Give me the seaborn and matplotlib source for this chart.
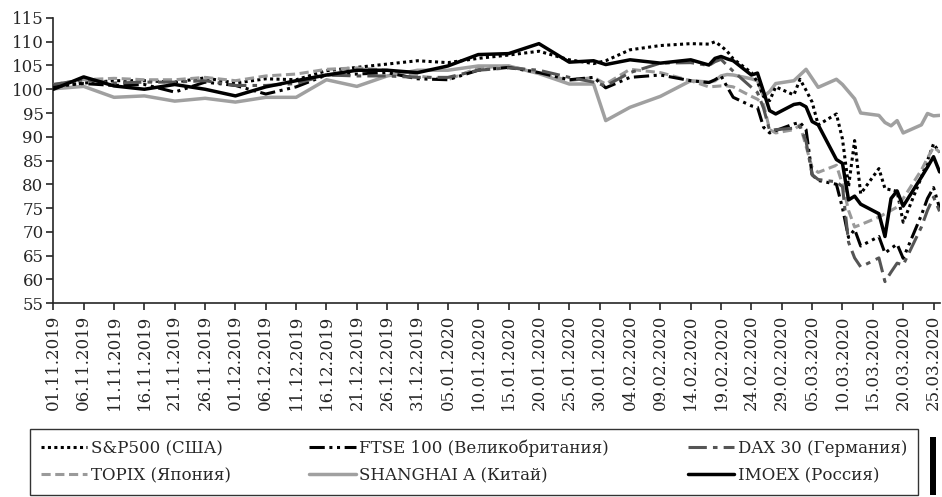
import pandas as pd
import matplotlib
matplotlib.use('Agg')
import matplotlib.pyplot as plt
import matplotlib.dates as mdates
from matplotlib.patches import Rectangle
import seaborn as sns

day_offset = [0, 5, 10, 15, 20, 25, 30, 35, 40, 45, 50, 55, 60, 65, 70, 75, 80, 85, 89, 91, 95, 100,
              105, 108, 109, 110, 111, 112, 115, 116, 117, 118, 119, 122, 123, 124, 125, 126,
              129, 130, 131, 132, 133, 136, 137, 138, 139, 140, 143, 144, 145, 146]

sp500 = [100.5, 101.3, 101.8, 101.8, 101.5, 102.4, 101.3, 102.2, 102.0, 103.9, 104.6, 105.3, 106.0, 105.6,
         106.5, 107.2, 108.0, 106.2, 105.4, 106.0, 108.3, 109.2,
         109.6, 109.5, 110.0, 109.1, 108.0, 106.4, 103.5, 101.5, 98.5, 97.6, 100.5, 98.8, 102.1, 99.8, 97.3, 92.5,
         94.8, 89.5, 79.5, 89.2, 78.0, 83.3, 79.1, 78.8, 78.5, 72.0, 81.5, 85.0, 88.5, 86.7]
ftse = [100.8, 101.2, 100.8, 101.0, 99.4, 101.5, 100.8, 99.0, 100.5, 103.0, 103.2, 103.5, 102.2, 102.0,
        104.0, 104.6, 103.5, 102.0, 102.5, 100.3, 102.5, 103.0,
        101.8, 101.4, 102.0, 102.8, 100.5, 98.3, 96.5, 96.2, 92.0, 90.8, 91.3, 92.7, 93.0, 91.5, 82.0, 80.8,
        80.0, 75.0, 68.8, 70.5, 67.0, 69.0, 65.5, 66.5, 67.4, 64.4, 73.5, 77.0, 79.3, 75.0]
dax = [101.0, 102.0, 101.3, 101.5, 101.5, 101.8, 100.8, 100.8, 101.2, 103.0, 102.8, 102.8, 102.5, 102.5,
       104.0, 104.5, 104.0, 102.5, 101.5, 100.7, 103.5, 105.5,
       105.6, 105.0, 105.8, 106.3, 105.0, 103.8, 100.4, 99.3, 96.0, 91.3, 91.5, 91.8, 92.2, 89.0, 82.0, 81.0,
       80.5, 79.5, 67.8, 64.5, 62.6, 64.5, 59.5, 61.5, 63.4, 63.0, 71.0, 74.5, 77.3, 74.3]
topix = [101.0, 102.0, 102.3, 102.0, 102.0, 102.5, 101.8, 102.8, 103.2, 104.2, 104.5, 104.0, 102.8, 102.0,
         104.5, 104.9, 103.5, 101.8, 102.5, 101.1, 104.2, 103.5,
         101.8, 100.5, 100.6, 100.7, 100.7, 100.5, 98.5, 97.9, 96.8, 91.5, 90.8, 91.5, 92.5, 88.0, 83.5, 82.5,
         84.0, 80.0, 74.5, 71.0, 71.5, 73.1, 73.8, 74.5, 75.2, 77.0, 83.0, 85.5, 87.8, 86.8]
shanghai = [100.1, 100.6, 98.3, 98.6, 97.5, 98.1, 97.3, 98.3, 98.3, 102.0, 100.6, 102.8, 104.0, 104.0,
            104.9, 104.9, 103.3, 101.1, 101.1, 93.4, 96.2, 98.5,
            101.8, 101.5, 101.8, 102.8, 103.1, 103.0, 102.2, 101.8, 98.5, 99.5, 101.2, 101.8, 103.0, 104.2, 102.3, 100.4,
            102.1, 101.0, 99.5, 98.0, 95.0, 94.5, 93.0, 92.3, 93.4, 90.8, 92.5, 94.9, 94.4, 94.5]
imoex = [100.0, 102.6, 100.7, 100.0, 101.0, 100.0, 98.6, 100.5, 101.8, 103.0, 104.0, 104.0, 103.5, 104.9,
         107.3, 107.5, 109.6, 105.7, 106.0, 105.2, 106.2, 105.5,
         106.2, 105.1, 106.5, 106.9, 106.4, 106.0, 103.0, 103.4, 99.5, 95.5, 94.8, 96.8, 97.0, 96.3, 93.2, 92.5,
         85.2, 84.4, 76.7, 77.5, 75.8, 73.8, 69.0, 77.0, 78.6, 75.4, 81.5, 83.6, 85.8, 82.6]

start = pd.Timestamp('2019-11-01')
dates = start + pd.to_timedelta(day_offset, unit='D')

sns.set_style('ticks')
plt.rcParams['font.family'] = ['DejaVu Serif']

fig = plt.figure(figsize=(9.42, 4.97), dpi=100)
ax = fig.add_axes([0.0566, 0.3903, 0.9415, 0.5735])

# order chosen so the 3-column legend reads row by row
series = [
    ('S&P500 (США)', sp500, 'black', (0, (1, 1.1)), 2.2),
    ('TOPIX (Япония)', topix, '#9a9a9a', (0, (3, 1.5)), 2.2),
    ('FTSE 100 (Великобритания)', ftse, 'black', (0, (5, 1.5, 1, 1.5, 1, 1.5)), 2.2),
    ('SHANGHAI A (Китай)', shanghai, '#a0a0a0', '-', 2.5),
    ('DAX 30 (Германия)', dax, '#555555', (0, (6, 2, 1.5, 2)), 2.2),
    ('IMOEX (Россия)', imoex, 'black', '-', 2.5),
]
zorders = {'IMOEX (Россия)': 6, 'SHANGHAI A (Китай)': 1}
for name, vals, col, ls, lw in series:
    sns.lineplot(x=dates, y=vals, ax=ax, color=col, linestyle=ls, lw=lw, label=name,
                 zorder=zorders.get(name, 3))

ax.set_ylim(55, 115)
ax.set_yticks(range(55, 116, 5))
ax.set_xlim(start, start + pd.Timedelta(days=146.1))
ticks = pd.date_range(start, '2020-03-25', freq='5D')
ax.set_xticks(ticks)
ax.xaxis.set_major_formatter(mdates.DateFormatter('%d.%m.%Y'))
ax.tick_params(axis='x', rotation=90, labelsize=12, length=5, width=1.2, direction='out')
ax.tick_params(axis='y', labelsize=12, length=5, width=1.2, direction='out', pad=2)
for s in ['top', 'right']:
    ax.spines[s].set_visible(False)
for s in ['left', 'bottom']:
    ax.spines[s].set_linewidth(1.2)
ax.set_xlabel('')
ax.set_ylabel('')

handles, labels = ax.get_legend_handles_labels()
ax.get_legend().remove()
leg = fig.legend(handles, labels, ncol=3, loc='lower left', mode='expand',
                 bbox_to_anchor=(0.0318, 0.004, 0.9427, 0.1247), borderaxespad=0,
                 fontsize=12, frameon=True, fancybox=False, edgecolor='black',
                 handlelength=2.8, handletextpad=0.2, borderpad=0.65, labelspacing=0.6)
leg.get_frame().set_linewidth(1.0)

fig.add_artist(Rectangle((930 / 942, 2 / 497), 6 / 942, 58 / 497, transform=fig.transFigure,
                         color='black', lw=0))

fig.savefig('out.png', dpi=100)
